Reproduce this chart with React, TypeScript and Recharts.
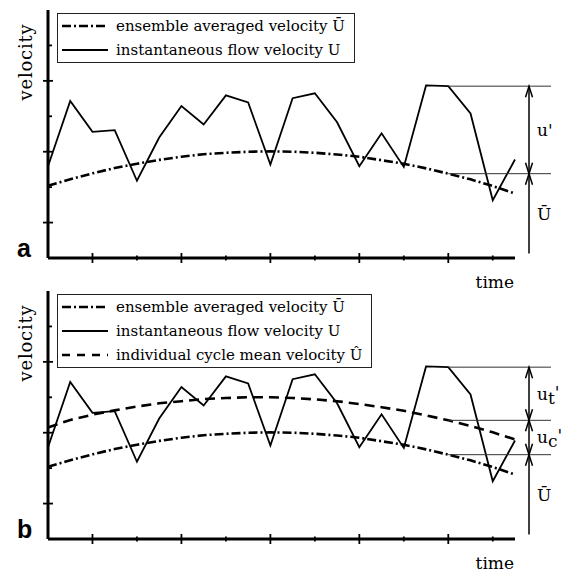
import React from 'react';
import { LineChart, Line, XAxis, YAxis, Legend, ReferenceLine } from 'recharts';

// ---- data ----
const timeSteps = [0, 1, 2, 3, 4, 5, 6, 7, 8, 9, 10, 11, 12, 13, 14, 15, 16, 17, 18, 19, 20, 21];
const instantaneous = [2.59, 4.43, 3.56, 3.61, 2.18, 3.4, 4.29, 3.77, 4.59, 4.39, 2.64, 4.51, 4.65, 3.83, 2.59, 3.52, 2.57, 4.87, 4.85, 4.08, 1.63, 2.78];
const ensembleAvg = [2.04, 2.22, 2.39, 2.54, 2.66, 2.77, 2.86, 2.93, 2.97, 3.0, 3.01, 3.0, 2.97, 2.92, 2.86, 2.76, 2.66, 2.53, 2.38, 2.22, 2.03, 1.82];
const cycleMean = [3.15, 3.36, 3.51, 3.63, 3.74, 3.83, 3.89, 3.95, 3.98, 4.0, 4.0, 3.98, 3.94, 3.89, 3.81, 3.72, 3.62, 3.49, 3.35, 3.19, 3.01, 2.81];
const yTicks = [1, 2, 3, 4, 5, 6];
const xTicks = [2, 4, 6, 8, 10, 12, 14, 16, 18, 20];
const seriesNames: Record<string, string> = {
  ens: 'ensemble averaged velocity \u016A',
  inst: 'instantaneous flow velocity U',
  cyc: 'individual cycle mean velocity \u00DB',
};
const legendOrder = ['ens', 'inst', 'cyc'];
const refIndex = 18; // where the annotation lines start
const arrowX = 21.63;
const lineEndX = 22.62;
const arrowBase = 0.13;

const rows = timeSteps.map((t, k) => ({ t, inst: instantaneous[k], ens: ensembleAvg[k], cyc: cycleMean[k] }));

const SERIF = '"DejaVu Serif", serif';
const styles: Record<string, { dash?: string; legendDash?: string; width: number }> = {
  ens: { dash: '9 3 2 3', legendDash: '9 3 2 3', width: 2.6 },
  inst: { width: 1.8 },
  cyc: { dash: '10 6', legendDash: '8 7', width: 2.6 },
};

const YTick = (props: any) => {
  const { x, y, payload } = props;
  const major = payload.value % 2 === 1;
  return <line x1={major ? x - 5 : x} x2={major ? x + 5 : x + 4} y1={y} y2={y} stroke="#000" strokeWidth={1.8} />;
};
const XTick = (props: any) => {
  const { x, y, payload } = props;
  const major = payload.value % 4 === 2;
  const h = major ? 5 : 2.5;
  return <line x1={x} x2={x} y1={y - h} y2={y + h} stroke="#000" strokeWidth={1.8} />;
};

const makeArrow = (label: React.ReactNode, headTop: boolean, headBottom: boolean) => (props: any) => {
  const { x1, y1, y2 } = props;
  const x = x1;
  const top = Math.min(y1, y2);
  const bot = Math.max(y1, y2);
  return (
    <g>
      <line x1={x} x2={x} y1={top} y2={bot} stroke="#000" strokeWidth={1.5} />
      {headTop && <path d={`M${x - 3.5},${top + 11} L${x},${top} L${x + 3.5},${top + 11}`} fill="none" stroke="#000" strokeWidth={1.5} />}
      {headBottom && <path d={`M${x - 3.5},${bot - 11} L${x},${bot} L${x + 3.5},${bot - 11}`} fill="none" stroke="#000" strokeWidth={1.5} />}
      <text x={x + 8} y={(top + bot) / 2} dominantBaseline="central" fontFamily={SERIF} fontSize={17} fill="#000">
        {label}
      </text>
    </g>
  );
};

const LegendBox = (props: any) => {
  const keys: string[] = (props.payload || []).map((p: any) => p.dataKey);
  const ordered = legendOrder.filter((k) => keys.includes(k));
  return (
    <div style={{ border: '1px solid #222', background: '#fff', padding: '0 9px 0 4px' }}>
      {ordered.map((k) => (
        <div key={k} style={{ height: 24, display: 'flex', alignItems: 'center' }}>
          <svg width={46} height={10} style={{ display: 'block' }}>
            <line x1={0} x2={46} y1={5} y2={5} stroke="#000" strokeWidth={styles[k].width} strokeDasharray={styles[k].legendDash} />
          </svg>
          <span style={{ marginLeft: 8, fontFamily: SERIF, fontSize: 15, color: '#000', whiteSpace: 'nowrap' }}>{seriesNames[k]}</span>
        </div>
      ))}
    </div>
  );
};

const Panel = ({ letter, withCycle, top, height }: { letter: string; withCycle: boolean; top: number; height: number }) => {
  const instRef = instantaneous[refIndex];
  const ensRef = ensembleAvg[refIndex];
  const cycRef = cycleMean[refIndex];
  const hLines = withCycle ? [instRef, cycRef, ensRef] : [instRef, ensRef];
  return (
    <div style={{ position: 'absolute', left: 0, top }}>
      <LineChart width={564} height={height} data={rows} margin={{ top: 10, right: 49, left: 0, bottom: height - 258 - 20 }} style={{ overflow: 'visible' }}>
        <XAxis
          dataKey="t"
          type="number"
          domain={[0, 21]}
          ticks={xTicks}
          tick={<XTick />}
          tickLine={false}
          tickSize={0}
          tickMargin={0}
          height={20}
          axisLine={{ stroke: '#000', strokeWidth: 3 }}
          label={(p: any) => {
            const vb = p.viewBox || { x: 48, y: 258, width: 467 };
            return (
              <g>
                <text x={vb.x + vb.width - 1} y={vb.y + 30} textAnchor="end" fontFamily={SERIF} fontSize={17} fill="#000">time</text>
                <text x={vb.x - 31} y={vb.y - 1} fontFamily='"Liberation Sans", Arial, sans-serif' fontWeight="bold" fontSize={25} fill="#000">{letter}</text>
              </g>
            );
          }}
        />
        <YAxis
          type="number"
          domain={[0, 7]}
          ticks={yTicks}
          width={48}
          tick={<YTick />}
          tickLine={false}
          tickSize={0}
          tickMargin={0}
          axisLine={{ stroke: '#000', strokeWidth: 3 }}
          label={(p: any) => {
            const vb = p.viewBox || { x: 0, y: 10 };
            return (
              <text x={vb.x + 25} y={vb.y + 52} transform={`rotate(-90 ${vb.x + 25} ${vb.y + 52})`} textAnchor="middle" dominantBaseline="central" fontFamily={SERIF} fontSize={18} letterSpacing={0.8} fill="#000">
                velocity
              </text>
            );
          }}
        />
        <Legend layout="vertical" align="center" verticalAlign="middle" content={<LegendBox />} wrapperStyle={{ position: 'absolute', left: 57, top: 13, width: 'auto' }} />
        <Line dataKey="ens" name={seriesNames.ens} stroke="#000" strokeWidth={styles.ens.width} strokeDasharray={styles.ens.dash} dot={false} activeDot={false} isAnimationActive={false} />
        {withCycle && (
          <Line dataKey="cyc" name={seriesNames.cyc} stroke="#000" strokeWidth={styles.cyc.width} strokeDasharray={styles.cyc.dash} dot={false} activeDot={false} isAnimationActive={false} />
        )}
        <Line dataKey="inst" name={seriesNames.inst} stroke="#000" strokeWidth={styles.inst.width} strokeLinejoin="miter" dot={false} activeDot={false} isAnimationActive={false} />
        {hLines.map((v, k) => (
          <ReferenceLine key={'h' + k} segment={[{ x: refIndex, y: v }, { x: lineEndX, y: v }]} stroke="#333" strokeWidth={1} ifOverflow="visible" />
        ))}
        {withCycle ? (
          <>
            <ReferenceLine segment={[{ x: arrowX, y: instRef }, { x: arrowX, y: cycRef }]} ifOverflow="visible" shape={makeArrow(<><tspan>u</tspan><tspan dy={4}>t</tspan><tspan dy={-6}>'</tspan></>, true, true)} />
            <ReferenceLine segment={[{ x: arrowX, y: cycRef }, { x: arrowX, y: ensRef }]} ifOverflow="visible" shape={makeArrow(<><tspan>u</tspan><tspan dy={4}>c</tspan><tspan dy={-6}>'</tspan></>, true, true)} />
          </>
        ) : (
          <ReferenceLine segment={[{ x: arrowX, y: instRef }, { x: arrowX, y: ensRef }]} ifOverflow="visible" shape={makeArrow("u'", true, true)} />
        )}
        <ReferenceLine segment={[{ x: arrowX, y: ensRef }, { x: arrowX, y: arrowBase }]} ifOverflow="visible" shape={makeArrow('\u016A', true, false)} />
      </LineChart>
    </div>
  );
};

export default function App() {
  return (
    <div style={{ position: 'absolute', left: 0, top: 0, width: 564, height: 573, background: '#fff' }}>
      <Panel letter="a" withCycle={false} top={0} height={300} />
      <Panel letter="b" withCycle={true} top={281} height={292} />
    </div>
  );
}
